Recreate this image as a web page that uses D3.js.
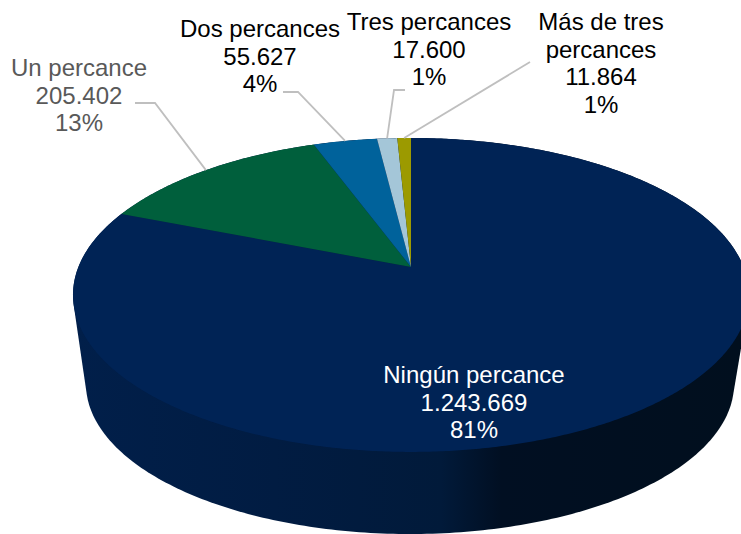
<!DOCTYPE html>
<html><head><meta charset="utf-8">
<script src="https://cdnjs.cloudflare.com/ajax/libs/d3/7.8.5/d3.min.js"></script>
<style>html,body{margin:0;padding:0;background:#fff}svg{display:block}text{font-family:"Liberation Sans",Arial,sans-serif;font-size:24px}</style>
</head><body><svg id="c" width="741" height="534"></svg>
<script>
const categories=["Ningún percance","Un percance","Dos percances","Tres percances","Más de tres percances"];
const values=[1243669,205402,55627,17600,11864];
const valueLabels=["1.243.669","205.402","55.627","17.600","11.864"];
const percentLabels=["81%","13%","4%","1%","1%"];
const colors=["#002355","#005f3c","#00629b","#a4c6d8","#9c9a00"];
const labelLines=[["Ningún percance"],["Un percance"],["Dos percances"],["Tres percances"],["Más de tres","percances"]];
const labelColors=["#ffffff","#595959","#000000","#000000","#000000"];
const labelX=[474,79,260,429,601];
const labelY=[383,76,37,30,30];
const leaderVia=[null,[[135,103],[155,103]],[[283,92],[298,92]],[[405,90],[394,90]],[[530,62]]];

const svg=d3.select("#c");
const cx=411,cy=267,A=332.6,B=152,k=0.178;
const project=(a,s=1)=>{const u=Math.sin(a),v=-Math.cos(a),w=1-k*v;return [cx+s*A*u/w,cy+s*B*v/w];};
const pie=d3.pie().sort(null)(values);
const line=d3.line();
const defs=svg.append("defs");
const g=defs.append("linearGradient").attr("id","wall").attr("gradientUnits","userSpaceOnUse").attr("x1",75).attr("x2",741).attr("y1",0).attr("y2",0);
[[0,"#011f4a"],[.3,"#011c42"],[.55,"#011a3a"],[.64,"#010f22"],[1,"#010f1e"]].forEach(d=>g.append("stop").attr("offset",d[0]).attr("stop-color",d[1]));

const N=360, rim=d3.range(N).map(i=>project(i/N*2*Math.PI));
const lower=d3.range(N).map(i=>{const a=i/N*2*Math.PI;return [410+324*Math.sin(a),384-150*Math.cos(a)];});
svg.append("path").attr("d",line(d3.polygonHull(rim.concat(lower)))+"Z").attr("fill","url(#wall)");

svg.selectAll("path.slice").data(pie).join("path").attr("class","slice")
 .attr("fill",(d,i)=>colors[i])
 .attr("d",d=>{const n=Math.max(4,Math.ceil((d.endAngle-d.startAngle)*120));
   const pts=d3.range(n+1).map(i=>project(d.startAngle+(d.endAngle-d.startAngle)*i/n));
   return line([[cx,cy],...pts])+"Z";});

pie.forEach((d,i)=>{ if(!leaderVia[i])return;
 const end=project((d.startAngle+d.endAngle)/2);
 svg.append("path").attr("d",line([...leaderVia[i],end])).attr("fill","none").attr("stroke","#bfbfbf").attr("stroke-width",1.8);});

categories.forEach((c,i)=>{
 const rows=[...labelLines[i],valueLabels[i],percentLabels[i]];
 const t=svg.append("text").attr("text-anchor","middle").attr("fill",labelColors[i]);
 rows.forEach((r,j)=>t.append("tspan").attr("x",labelX[i]).attr("y",labelY[i]+j*27.7).text(r));
});
</script></body></html>
